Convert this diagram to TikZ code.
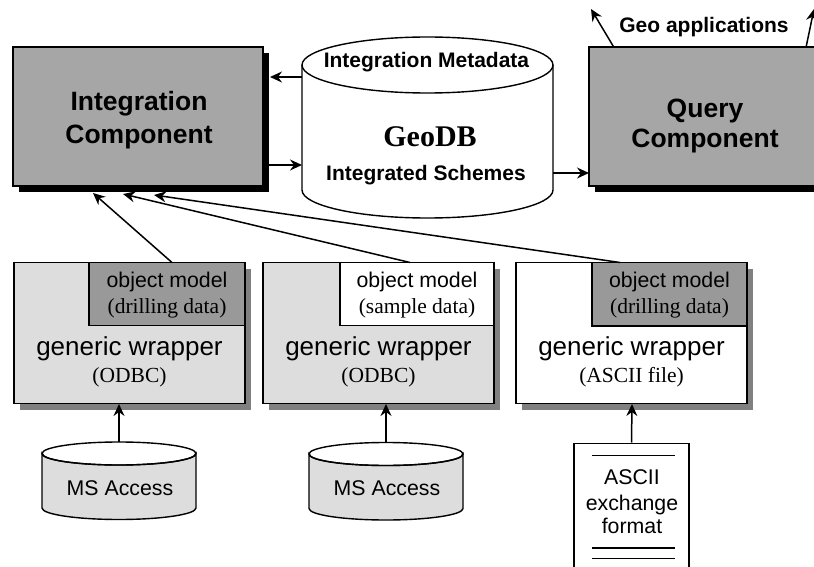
\documentclass[tikz,border=0pt]{standalone}
\usepackage{fontspec}
\setmainfont{Liberation Serif}
\setsansfont{Liberation Sans}
\usetikzlibrary{arrows.meta,shadows}
\definecolor{compgray}{RGB}{166,166,166}
\definecolor{wrapgray}{RGB}{221,221,221}
\definecolor{objgray}{RGB}{153,153,153}
\definecolor{shadgray}{RGB}{128,128,128}
\begin{document}
\begin{tikzpicture}[x=1pt,y=-1pt,
  comp/.style={draw=black, line width=1.3pt, fill=compgray, inner sep=0,
    drop shadow={shadow xshift=6pt, shadow yshift=-6pt, fill=black, opacity=1}},
  wrapbox/.style={draw=black, line width=1.6pt, inner sep=0,
    drop shadow={shadow xshift=6pt, shadow yshift=-6pt, fill=shadgray, opacity=1}},
  objbox/.style={draw=black, line width=1.6pt, inner sep=0},
  arr/.style={line width=1.5pt, -{Stealth[length=12pt,width=11pt,inset=4pt]}},
  tb/.style={anchor=base, inner sep=0},
  fbig/.style={font=\sffamily\bfseries\fontsize{26.5}{30}\selectfont},
  fmid/.style={font=\sffamily\bfseries\fontsize{21}{25}\selectfont},
  fgeo/.style={font=\rmfamily\bfseries\fontsize{30}{34}\selectfont},
  fwrap/.style={font=\sffamily\fontsize{26}{30}\selectfont},
  fsans/.style={font=\sffamily\fontsize{21.3}{25}\selectfont},
  fser/.style={font=\rmfamily\fontsize{21.5}{25}\selectfont}
]
\useasboundingbox (0,0) rectangle (814,567);
\clip (0,0) rectangle (814,567);

% ---------- top components ----------
\node[comp, minimum width=250pt, minimum height=139pt] (integ) at (138,116.5) {};
\node[tb, fbig] (integt1) at (139,111) {Integration};
\node[tb, fbig] (integt2) at (139,143) {Component};

\node[comp, minimum width=232pt, minimum height=139pt] (query) at (705,116.5) {};
\node[tb, fbig] (queryt1) at (705,118) {Query};
\node[tb, fbig] (queryt2) at (705,148) {Component};

% ---------- GeoDB cylinder ----------
\filldraw[fill=white, line width=1.4pt] (302,65) -- (302,190)
  arc[start angle=180, end angle=360, x radius=125.5pt, y radius=28pt]
  -- (553,65);
\filldraw[fill=white, line width=1.4pt] (427.5,65) ellipse [x radius=125.5pt, y radius=28pt];
\node[tb, fmid] (meta) at (426.5,68) {Integration Metadata};
\node[tb, fgeo] (geodb) at (430,147) {GeoDB};
\node[tb, fmid] (schemes) at (426,180) {Integrated Schemes};

\coordinate (geoW1) at (302,77);
\coordinate (integE1) at (270,77);
\coordinate (integE2) at (263,165);
\coordinate (geoW2) at (302,165);
\coordinate (geoE) at (553,173);
\coordinate (queryW) at (589,173);
\draw[arr] (geoW1) -- (integE1);
\draw[arr] (integE2) -- (geoW2);
\draw[arr] (geoE) -- (queryW);

% ---------- geo applications ----------
\node[tb, fmid] (geoapp) at (704,33) {Geo applications};
\coordinate (qtop1) at (614,47.5);
\coordinate (app1) at (591,9);
\coordinate (qtop2) at (806,47.5);
\coordinate (app2) at (814,9);
\draw[arr] (qtop1) -- (app1);
\draw[arr] (qtop2) -- (app2);

% ---------- wrappers ----------
\node[wrapbox, fill=wrapgray, minimum width=231pt, minimum height=141pt] (w1) at (129.5,333) {};
\node[objbox, fill=objgray, minimum width=156pt, minimum height=63pt] (o1) at (167,294) {};
\node[tb, fsans] (o1t1) at (167,287) {object model};
\node[tb, fser] (o1t2) at (167,313) {(drilling data)};
\node[tb, fwrap] (w1t1) at (129.5,355) {generic wrapper};
\node[tb, fser] (w1t2) at (129.5,382) {(ODBC)};

\node[wrapbox, fill=wrapgray, minimum width=231pt, minimum height=141pt] (w2) at (378.5,333) {};
\node[objbox, fill=white, minimum width=154pt, minimum height=63pt] (o2) at (417,294) {};
\node[tb, fsans] (o2t1) at (417,287) {object model};
\node[tb, fser] (o2t2) at (417,313) {(sample data)};
\node[tb, fwrap] (w2t1) at (378.5,355) {generic wrapper};
\node[tb, fser] (w2t2) at (378.5,382) {(ODBC)};

\node[wrapbox, fill=white, minimum width=231pt, minimum height=141pt] (w3) at (631.5,333) {};
\node[objbox, fill=objgray, minimum width=155pt, minimum height=63.5pt] (o3) at (669.5,294.2) {};
\node[tb, fsans] (o3t1) at (669.5,287) {object model};
\node[tb, fser] (o3t2) at (669.5,313) {(drilling data)};
\node[tb, fwrap] (w3t1) at (631.5,355) {generic wrapper};
\node[tb, fser] (w3t2) at (631.5,382) {(ASCII file)};

% ---------- arrows to integration component ----------
\coordinate (o1top) at (172,262.5);
\coordinate (o2top) at (410,262.5);
\coordinate (o3top) at (620,262.5);
\coordinate (in1) at (93,193);
\coordinate (in2) at (123,194);
\coordinate (in3) at (154,195);
\draw[arr] (o1top) -- (in1);
\draw[arr] (o2top) -- (in2);
\draw[arr] (o3top) -- (in3);

% ---------- MS Access cylinders ----------
\filldraw[fill=wrapgray, line width=1.4pt] (42,453.5) -- (42,508)
  arc[start angle=180, end angle=360, x radius=77pt, y radius=11.5pt]
  -- (196,453.5) arc[start angle=0, end angle=-180, x radius=77pt, y radius=11.5pt] -- cycle;
\draw[line width=1.4pt] (119,453.5) ellipse [x radius=77pt, y radius=11.5pt];
\node[tb, fsans] (ms1) at (120,495) {MS Access};

\filldraw[fill=wrapgray, line width=1.4pt] (309,454) -- (309,508.5)
  arc[start angle=180, end angle=360, x radius=77pt, y radius=11.5pt]
  -- (463,454) arc[start angle=0, end angle=-180, x radius=77pt, y radius=11.5pt] -- cycle;
\draw[line width=1.4pt] (386,454) ellipse [x radius=77pt, y radius=11.5pt];
\node[tb, fsans] (ms2) at (387,495) {MS Access};

\coordinate (c1top) at (119,442);
\coordinate (w1bot) at (119,404);
\coordinate (c2top) at (386,442.5);
\coordinate (w2bot) at (386,404);
\draw[arr] (c1top) -- (w1bot);
\draw[arr] (c2top) -- (w2bot);

% ---------- ASCII document ----------
\node[draw, fill=white, line width=1.6pt, inner sep=0, minimum width=115pt, minimum height=160pt, anchor=north] (doc) at (631.5,442.5) {};
\draw[line width=1.6pt] (592,455.5) -- (675,455.5);
\draw[line width=1.6pt] (592,548) -- (675,548);
\draw[line width=1.6pt] (592,558.5) -- (675,558.5);
\node[tb, fsans] (dt1) at (632,484) {ASCII};
\node[tb, fsans] (dt2) at (632,510) {exchange};
\node[tb, fsans] (dt3) at (632,533) {format};
\coordinate (w3bot) at (632,404);
\draw[arr] (doc.north) -- (w3bot);
\end{tikzpicture}
\end{document}
